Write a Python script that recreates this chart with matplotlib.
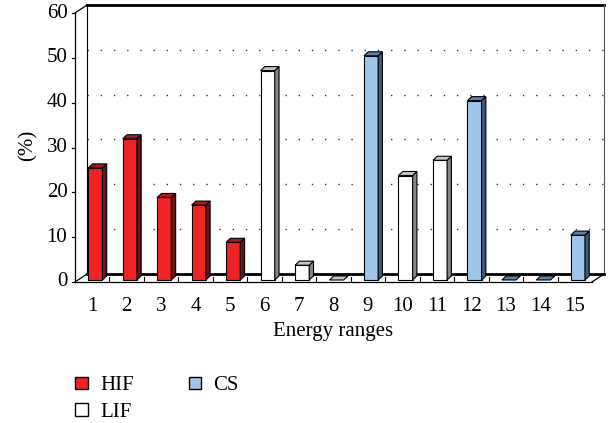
import matplotlib.pyplot as plt
from matplotlib.patches import Polygon, Patch

plt.rcParams['font.family'] = ['Liberation Serif', 'DejaVu Serif']

categories = list(range(1, 16))
values = [25.0, 31.5, 18.4, 16.7, 8.4, 46.7, 3.3, 0.0, 50.0, 23.3, 26.7, 40.0, 0.0, 0.0, 10.0]
groups = ['HIF', 'HIF', 'HIF', 'HIF', 'HIF', 'LIF', 'LIF', 'LIF', 'CS', 'LIF', 'LIF', 'CS', 'CS', 'CS', 'CS']
yticks = [0, 10, 20, 30, 40, 50, 60]

# front, side, top colours
colors = {
    'HIF': ('#ee2326', '#6c1414', '#a51c1d'),
    'LIF': ('#ffffff', '#858585', '#c4c4c4'),
    'CS': ('#9fc5e8', '#3d5b7a', '#5d82a8'),
}

fig = plt.figure(figsize=(6.1, 4.23), dpi=100)
ax = fig.add_axes([75 / 610, 1 - 282 / 423, 517 / 610, 269 / 423])
ax.set_xlim(0.5, 15.5)
ax.set_ylim(0, 60)
ax.axis('off')

# wall depth (data units)
wdx, wdy = 0.35, 1.8
x0, x1 = 0.5, 15.5
k = dict(color='black', clip_on=False)

# back wall + floor
ax.plot([x0 + wdx, x0 + wdx], [wdy, 60 + wdy], lw=0.8, **k)
ax.plot([x0 + wdx, x1 + wdx], [60 + wdy, 60 + wdy], lw=2, **k)
ax.plot([x1 + wdx, x1 + wdx], [wdy, 60 + wdy], lw=0.8, color='#555555', clip_on=False)
ax.plot([x0 + wdx, x1 + wdx], [wdy, wdy], lw=2, **k)
ax.plot([x0, x1], [0, 0], lw=0.9, **k)
ax.plot([x1, x1 + wdx], [0, wdy], lw=0.9, **k)
ax.plot([x0, x0 + wdx], [0, wdy], lw=0.9, **k)
ax.plot([x0, x0 + wdx], [60, 60 + wdy], lw=0.9, **k)
ax.plot([x0, x0], [0, 60], lw=0.9, **k)

for v in yticks[1:-1]:
    ax.plot([x0 + wdx, x1 + wdx], [v + wdy, v + wdy], lw=1, color='#333333',
            linestyle=(0, (1, 8.5)), clip_on=False)

# y ticks on front axis
for v in yticks:
    ax.plot([x0 - 0.1, x0], [v, v], lw=0.9, **k)
    ax.text(x0 - 0.22, v, str(v), ha='right', va='center', fontsize=15)

# category ticks on floor
for c in categories[:-1]:
    ax.plot([c + 0.5, c + 0.5], [0, 1.1], lw=0.8, **k)
for c in categories:
    ax.text(c, -3.3, str(c), ha='center', va='top', fontsize=15)

ax.text(8, -9.0, 'Energy ranges', ha='center', va='top', fontsize=15)
ax.text(-0.85, 30.5, '(%)', ha='center', va='center', rotation=90, fontsize=15)

# bars
bw = 0.41
bx, by = 0.09, 0.45
bdx, bdy = 0.125, 0.9
for c, v, g in zip(categories, values, groups):
    front, side, top = colors[g]
    left = c - bw / 2 + bx
    if v > 0:
        ax.bar(left, v, width=bw, bottom=by, align='edge', color=front,
               edgecolor='black', linewidth=0.8, zorder=3)
        ax.add_patch(Polygon([(left + bw, by), (left + bw, by + v),
                              (left + bw + bdx, by + v + bdy), (left + bw + bdx, by + bdy)],
                             closed=True, facecolor=side, edgecolor='black', lw=0.8, zorder=3))
    t = by + v
    ax.add_patch(Polygon([(left, t), (left + bw, t), (left + bw + bdx, t + bdy), (left + bdx, t + bdy)],
                         closed=True, facecolor=top, edgecolor='black', lw=0.8, zorder=3))

handles = [Patch(facecolor=colors['HIF'][0], edgecolor='black', label='HIF'),
           Patch(facecolor=colors['LIF'][0], edgecolor='black', label='LIF'),
           Patch(facecolor=colors['CS'][0], edgecolor='black', label='CS')]
fig.legend(handles=handles, ncol=2, loc='upper left', bbox_to_anchor=(0.110, 0.130),
           frameon=False, fontsize=15, handlelength=0.58, handleheight=0.58,
           handletextpad=0.6, columnspacing=2.65, labelspacing=0.35, borderaxespad=0)

fig.savefig('out.png', dpi=100)
